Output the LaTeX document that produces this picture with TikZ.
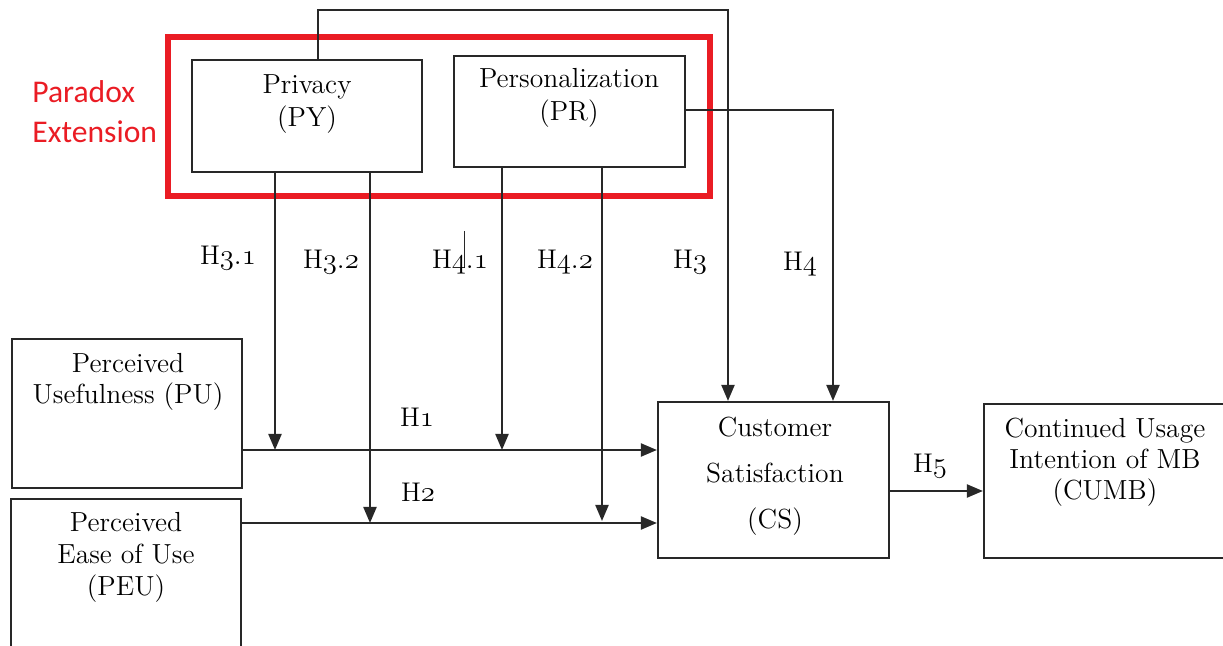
\documentclass[tikz,border=0pt]{standalone}
\usepackage{fontspec}
\newfontfamily\calib{Carlito}
\usetikzlibrary{arrows.meta}
\definecolor{ink}{RGB}{40,40,40}
\definecolor{frame}{RGB}{234,28,36}
% old-style figures for the hypothesis labels
\newcommand\osn[1]{$\mathnormal{#1}$}

\begin{document}
\begin{tikzpicture}[x=0.5pt,y=-0.5pt,
  box/.style={draw=ink, line width=1.1pt, inner sep=0pt},
  txt/.style={text=black, align=center, inner sep=0pt,
    font=\fontsize{13.8}{16.5}\selectfont},
  lbl/.style={text=black, inner sep=0pt, font=\fontsize{13.5}{16}\selectfont},
  conn/.style={draw=ink, line width=1.1pt},
  arr/.style={conn, -{Triangle[length=8pt,width=6.5pt]}}]

\useasboundingbox (0,0) rectangle (1223,646);
\clip (0,0) rectangle (1223,646);

% constructs
\node[box, minimum width=115pt, minimum height=56pt] (PY) at (307,116) {};
\node[box, minimum width=115.5pt, minimum height=55.5pt] (PR) at (569.5,111.5) {};
\node[box, minimum width=115pt, minimum height=74.5pt] (PU) at (127,413.5) {};
\node[box, minimum width=115pt, minimum height=100.5pt] (PEU) at (126,599.5) {};
\node[box, minimum width=115.5pt, minimum height=78pt] (CS) at (773.5,480) {};
\node[box, minimum width=138pt, minimum height=77pt] (CUMB) at (1122,481) {};

% paradox extension frame
\node[draw=frame, line width=2.6pt, minimum width=271pt, minimum height=79.5pt, inner sep=0pt] (PX) at (439,116.5) {};
\node[anchor=west, text=frame, align=left, inner sep=0pt,
  font=\calib\fontsize{15.8}{20}\selectfont] (PXt) at (32,112) {Paradox\\Extension};

% construct texts
\node[txt] (PYt) at (307,104) {Privacy\\(PY)};
\node[txt] (PRt) at (569,98) {Personalization\\(PR)};
\node[txt, font=\fontsize{13.8}{15.5}\selectfont] (PUt) at (128,382) {Perceived\\Usefulness (PU)};
\node[txt, font=\fontsize{13.8}{16}\selectfont] (PEUt) at (126,557) {Perceived\\Ease of Use\\(PEU)};
\node[txt, font=\fontsize{13.8}{23}\selectfont] (CSt) at (775,476) {Customer\\Satisfaction\\(CS)};
\node[txt, font=\fontsize{13.8}{15.5}\selectfont] (CUMBt) at (1105,462) {Continued Usage\\Intention of MB\\(CUMB)};

% points where the moderating paths meet the main paths
\coordinate (h1) at (0,450);
\coordinate (h2) at (0,523);
\coordinate (m31) at (275,450);
\coordinate (m32) at (370,523);
\coordinate (m41) at (502,450);
\coordinate (m42) at (602,521);
\coordinate (h5) at (0,491);
\coordinate (top) at (728,10);
\coordinate (h4c) at (833,110);

% main paths
\draw[arr] (PU.east |- h1) -- (CS.west |- h1);
\draw[arr] (PEU.east |- h2) -- (CS.west |- h2);
\draw[arr] (CS.east |- h5) -- (CUMB.west |- h5);

% moderating paths
\draw[arr] (PY.south -| m31) -- (m31);
\draw[arr] (PY.south -| m32) -- (m32);
\draw[arr] (PR.south -| m41) -- (m41);
\draw[arr] (PR.south -| m42) -- (m42);

% direct paths to satisfaction
\draw[arr] (PY.north -| 318,0) |- (top) -- (CS.north -| top);
\draw[arr] (PR.east |- h4c) -- (h4c) -- (CS.north -| h4c);

% small tick beside H4.1
\draw[ink, line width=0.5pt] (464,231) -- (464,268);

% hypothesis labels
\node[lbl] (L31) at (228,258) {H\osn{3.1}};
\node[lbl] (L32) at (331,262) {H\osn{3.2}};
\node[lbl] (L41) at (460,262) {H\osn{4.1}};
\node[lbl] (L42) at (565,262) {H\osn{4.2}};
\node[lbl] (L3) at (690,262) {H\osn{3}};
\node[lbl] (L4) at (800,264) {H\osn{4}};
\node[lbl] (L1) at (417,417) {H\osn{1}};
\node[lbl] (L2) at (418,492) {H\osn{2}};
\node[lbl] (L5) at (930,466) {H\osn{5}};
\end{tikzpicture}
\end{document}
